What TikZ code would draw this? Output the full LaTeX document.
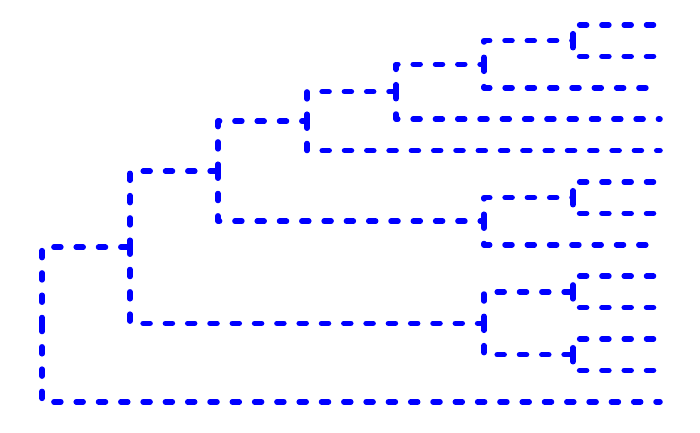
\documentclass[tikz,border=0pt]{standalone}
\usepackage{tikz}
\usetikzlibrary{calc}
\definecolor{treeblue}{RGB}{0, 0, 255}

\begin{document}
\begin{tikzpicture}[x=1pt, y=-1pt,
  link/.style={treeblue, line width=5.5pt, line cap=round, line join=round,
               dash pattern=on 7pt off 15.3pt}]
  \useasboundingbox (0,0) rectangle (700,432);
  % Leaves
  \foreach \i in {0,...,12} {
    \coordinate (L\i) at (660, {25 + 31.4*\i});
  }
  % Merge points (height, midpoint of children)
  \coordinate (a) at (573, 40.7);
  \coordinate (b) at (484, 64.3);
  \coordinate (c) at (396, 91.7);
  \coordinate (d) at (307, 121.2);
  \coordinate (e) at (573, 197.7);
  \coordinate (f) at (484, 221.2);
  \coordinate (g) at (218, 171.2);
  \coordinate (h) at (573, 291.9);
  \coordinate (i) at (573, 354.7);
  \coordinate (j) at (484, 323.3);
  \coordinate (k) at (130, 247.2);
  \coordinate (r) at (42, 324.5);
  % Links, from each merge point up and down to its two children
  \foreach \n/\p/\q in {a/L0/L1, b/a/L2, c/b/L3, d/c/L4, e/L5/L6, f/e/L7,
                        g/d/f, h/L8/L9, i/L10/L11, j/h/i, k/g/j, r/k/L12} {
    \draw[link] (\n) -- (\p -| \n) -- (\p);
    \draw[link] (\n) -- (\q -| \n) -- (\q);
  }
\end{tikzpicture}
\end{document}
